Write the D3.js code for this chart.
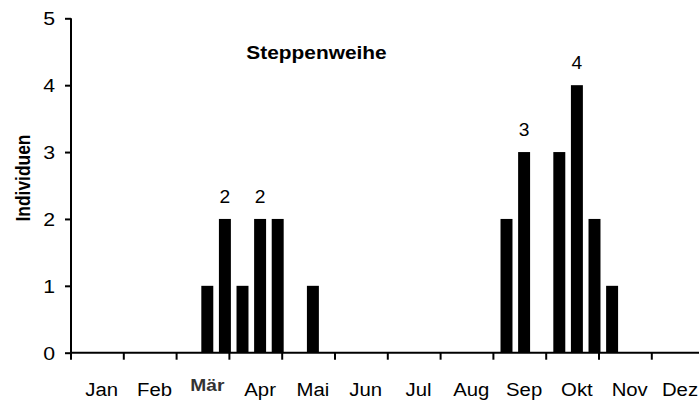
<!DOCTYPE html>
<html>
<head>
<meta charset="utf-8">
<script src="https://cdn.jsdelivr.net/npm/d3@7/dist/d3.min.js"></script>
<style>
html,body{margin:0;padding:0;background:#fff;}
svg{display:block;font-family:Arial,"Liberation Sans",sans-serif;}
</style>
</head>
<body>
<svg id="chart" width="699" height="401"></svg>
<script>
const months = ["Jan","Feb","Mär","Apr","Mai","Jun","Jul","Aug","Sep","Okt","Nov","Dez"];
const decades = ["1","2","3"];
// individuals per 10-day period (3 per month, Jan 1 .. Dez 3)
const counts = [
  0,0,0,  0,0,0,  0,1,2,  1,2,2,
  0,1,0,  0,0,0,  0,0,0,  0,0,0,
  2,3,0,  3,4,2,  1,0,0,  0,0,0
];
const yTicks = [0,1,2,3,4,5];
const labelSlots = [8,10,25,28];
const title = "Steppenweihe";
const yTitle = "Individuen";

const SX = 1.18; // horizontal stretch of text seen in the reference
const svg = d3.select("#chart");
const slots = d3.range(months.length * decades.length);
const data = slots.map(i => ({slot:i, month:months[Math.floor(i/3)], dec:decades[i%3], value:counts[i]}));

const axisX0 = 71, monthW = 52.8, shift = 4.3;
const x = d3.scaleBand().domain(slots).range([axisX0 + shift, axisX0 + shift + monthW*12]).paddingInner(0.32).paddingOuter(0.16);
const xm = d3.scaleBand().domain(months).range([axisX0, axisX0 + monthW*12]);
const y = d3.scaleLinear().domain([0,5]).range([352.7, 18.3]);

function stretch(sel, sx){
  sel.each(function(){
    const t = d3.select(this);
    const tx = +t.attr("x") || 0, ty = +t.attr("y") || 0;
    t.attr("x",0).attr("y",0).attr("transform",`translate(${tx},${ty}) scale(${sx||SX},1)`);
  });
}

// bars
svg.append("g").selectAll("rect").data(data.filter(d=>d.value>0)).join("rect")
  .attr("x", d=>x(d.slot)).attr("width", x.bandwidth())
  .attr("y", d=>y(d.value)).attr("height", d=>y(0)-y(d.value))
  .attr("fill","#000");

// y axis
const yAxis = d3.axisLeft(y).tickValues(yTicks).tickSize(6).tickPadding(10).tickFormat(d3.format("d"));
const gy = svg.append("g").attr("transform",`translate(${axisX0},0)`).call(yAxis);
gy.select(".domain").attr("stroke","#000").attr("stroke-width",2).attr("d",`M0,${y(5)}V${y(0)}`);
gy.selectAll(".tick line").attr("stroke","#000").attr("stroke-width",2);
gy.selectAll(".tick text").attr("font-size",18.5).attr("fill","#000").attr("dy",null).attr("y",6.5)
  .attr("font-family","Arial,'Liberation Sans',sans-serif").call(stretch, 1.15);

// x axis
const xAxis = d3.axisBottom(xm).tickSize(0).tickPadding(0).tickFormat(d=>d);
const gx = svg.append("g").attr("transform",`translate(0,${y(0)})`).call(xAxis);
gx.select(".domain").attr("stroke","#000").attr("stroke-width",2).attr("d",`M${axisX0-1},0H${axisX0+monthW*12}`);
gx.selectAll(".tick line").remove();
gx.selectAll(".tick text")
  .attr("font-size",18).attr("fill","#000").attr("dy",null).attr("y",43.3).attr("x",shift)
  .attr("font-family","Arial,'Liberation Sans',sans-serif");
gx.selectAll(".tick").filter(d=>d==="Mär").select("text")
  .attr("font-weight","bold").attr("fill","#333").attr("font-size",17).attr("y",38.5);
gx.selectAll(".tick").filter(d=>d==="Dez").select("text").attr("x", shift-2.5);
gx.selectAll(".tick text").call(stretch, 1.13);
// month boundary ticks
gx.append("g").selectAll("line").data(months).join("line")
  .attr("x1", d=>xm(d)).attr("x2", d=>xm(d)).attr("y1",0).attr("y2",7)
  .attr("stroke","#000").attr("stroke-width",2);

// value labels
svg.append("g").selectAll("text").data(data.filter(d=>labelSlots.includes(d.slot))).join("text")
  .attr("x", d=>x(d.slot)+x.bandwidth()/2).attr("y", d=>y(d.value)-16)
  .attr("text-anchor","middle").attr("font-size",17.5).attr("fill","#000")
  .text(d=>d.value).call(stretch, 1.1);

// title
svg.append("text").attr("x",316.5).attr("y",58.5).attr("text-anchor","middle")
  .attr("font-size",18).attr("font-weight","bold").text(title).call(stretch, 1.16);

// y title
svg.append("text").attr("transform",`translate(30,178) rotate(-90) scale(1,${SX})`).attr("text-anchor","middle")
  .attr("font-size",17.4).attr("font-weight","bold").text(yTitle);
</script>
</body>
</html>
